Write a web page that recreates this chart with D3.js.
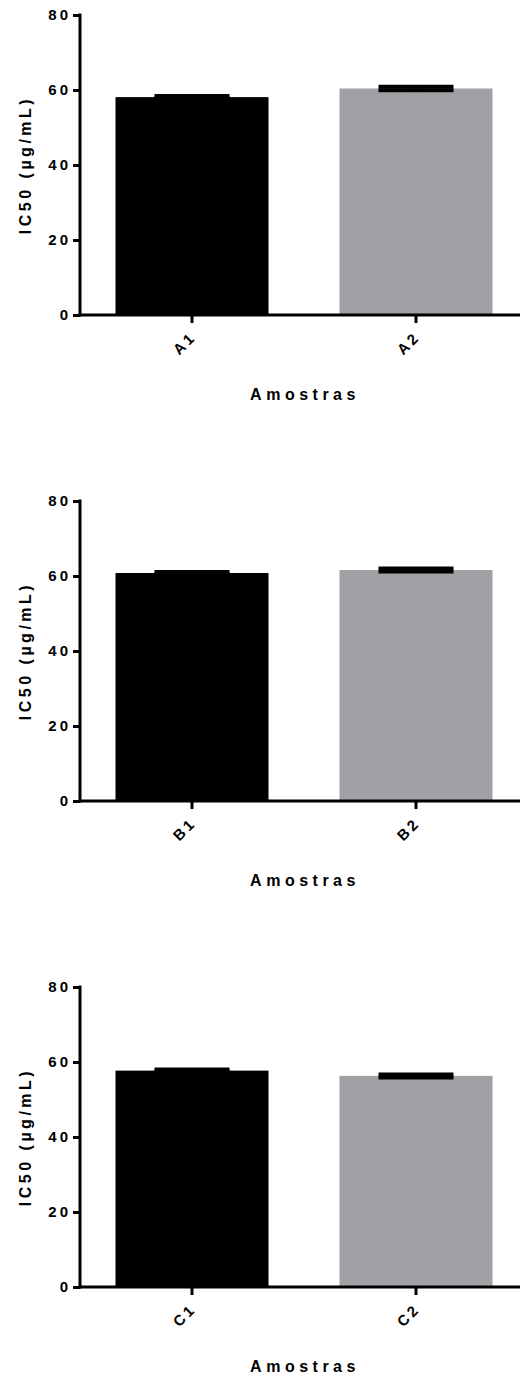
<!DOCTYPE html>
<html>
<head>
<meta charset="utf-8">
<script src="https://cdn.jsdelivr.net/npm/d3@7"></script>
<style>
  html, body { margin: 0; padding: 0; background: #fff; }
  svg text { font-family: "Liberation Sans", Arial, sans-serif; font-weight: bold; fill: #000; }
</style>
</head>
<body>
<svg id="chart" width="520" height="1376"></svg>
<script>
// ---- data ----
const categoriesA = ["A1", "A2"];
const valuesA = [58.1, 60.4];
const errorsA = [0.27, 0.45];
const categoriesB = ["B1", "B2"];
const valuesB = [60.8, 61.6];
const errorsB = [0.27, 0.4];
const categoriesC = ["C1", "C2"];
const valuesC = [57.7, 56.3];
const errorsC = [0.27, 0.4];
const barColors = ["#000000", "#a1a0a4"];
const yTicks = [0, 20, 40, 60, 80];
const yDomain = [0, 80];
const yLabel = "IC50 (µg/mL)";
const xLabel = "Amostras";

const panels = [
  { cats: categoriesA, vals: valuesA, errs: errorsA },
  { cats: categoriesB, vals: valuesB, errs: errorsB },
  { cats: categoriesC, vals: valuesC, errs: errorsC }
];

const svg = d3.select("#chart");
const left = 80, right = 528;
const plotH = 300, panelOffset = 486, firstTop = 15;

panels.forEach((p, i) => {
  const top = firstTop + i * panelOffset;
  const g = svg.append("g");
  const x = d3.scaleBand().domain(p.cats).range([left, right])
    .paddingInner(0.317).paddingOuter(0.1585);
  const y = d3.scaleLinear().domain(yDomain).range([top + plotH, top]);

  // bars
  g.selectAll("rect.bar").data(p.cats).join("rect")
    .attr("class", "bar")
    .attr("x", d => x(d))
    .attr("width", x.bandwidth())
    .attr("y", (d, j) => y(p.vals[j]))
    .attr("height", (d, j) => y(0) - y(p.vals[j]))
    .attr("fill", (d, j) => barColors[j]);

  // error bars
  const capW = 75;
  p.cats.forEach((c, j) => {
    const cx = x(c) + x.bandwidth() / 2;
    const hi = y(p.vals[j] + p.errs[j]), lo = y(p.vals[j] - p.errs[j]);
    g.append("line").attr("x1", cx).attr("x2", cx).attr("y1", hi).attr("y2", lo)
      .attr("stroke", "#000").attr("stroke-width", 4);
    [hi, lo].forEach(yy => g.append("line")
      .attr("x1", cx - capW / 2).attr("x2", cx + capW / 2)
      .attr("y1", yy).attr("y2", yy)
      .attr("stroke", "#000").attr("stroke-width", 4));
  });

  // y axis
  const ya = g.append("g").attr("transform", `translate(${left},0)`)
    .call(d3.axisLeft(y).tickValues(yTicks).tickSize(7).tickPadding(5).tickSizeOuter(0));
  ya.select(".domain").attr("stroke-width", 3).attr("d", `M0,${y(80) - 1.5}V${y(0) + 1.5}`);
  ya.selectAll(".tick line").attr("stroke-width", 3);
  ya.selectAll(".tick text").style("font-size", "15px").style("letter-spacing", "3px")
    .attr("font-family", null).attr("x", -9);

  // x axis
  const xa = g.append("g").attr("transform", `translate(0,${y(0)})`)
    .call(d3.axisBottom(x).tickSize(8).tickSizeOuter(0));
  xa.select(".domain").attr("stroke-width", 3).attr("d", `M${left - 1.5},0H520`);
  xa.selectAll(".tick line").attr("stroke-width", 3);
  xa.selectAll(".tick text")
    .style("font-size", "15px").style("letter-spacing", "3px")
    .attr("font-family", null)
    .attr("text-anchor", "end")
    .attr("dy", null)
    .attr("y", 0)
    .attr("transform", "translate(5,23) rotate(-45)");

  // axis titles
  g.append("text")
    .attr("transform", `translate(31,${(y(0) + y(80)) / 2}) rotate(-90)`)
    .attr("text-anchor", "middle")
    .style("font-size", "16px").style("letter-spacing", "3.5px")
    .text(yLabel);
  g.append("text")
    .attr("x", 305).attr("y", y(0) + 85)
    .attr("text-anchor", "middle")
    .style("font-size", "16px").style("letter-spacing", "4.5px")
    .text(xLabel);
});
</script>
</body>
</html>
